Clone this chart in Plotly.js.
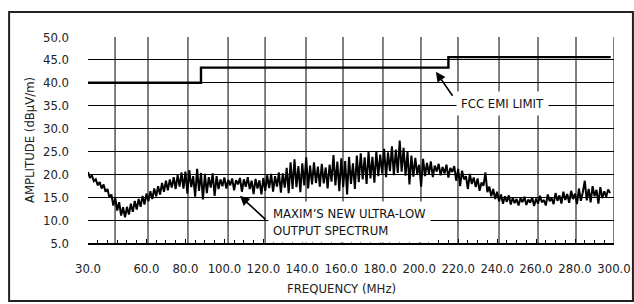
<!DOCTYPE html>
<html>
<head>
<meta charset="utf-8">
<script src="https://cdn.plot.ly/plotly-3.0.1.min.js"></script>
<style>html,body{margin:0;padding:0;background:#fff;}#chart{width:634px;height:304px;}</style>
</head>
<body>
<div id="chart"></div>
<script>
// Spectrum sampled every 1 MHz from 30 MHz
const specStart = 30;
const specValues = [
 20.5,19.2,19.8,18.5,18.9,17.6,18.3,16.9,17.8,16.2,
 16.8,14.9,15.6,13.2,14.8,12.1,13.9,11.0,12.8,10.6,
 12.9,11.2,13.6,11.8,14.2,12.3,14.6,12.9,15.3,13.4,
 15.8,14.1,16.3,14.6,16.9,15.2,17.4,15.6,18.1,16.2,
 18.6,16.5,18.9,17.1,19.4,16.8,19.8,17.3,20.4,16.9,
 20.6,15.8,20.9,17.2,19.6,15.1,21.2,16.4,20.3,14.5,
 20.1,15.9,19.4,17.1,20.2,15.3,19.6,16.8,18.9,17.4,
 19.3,16.9,18.8,17.6,19.1,16.5,18.7,17.8,19.2,16.2,
 18.9,17.3,19.4,16.8,18.6,15.7,19.0,16.9,18.7,15.6,
 19.2,16.4,19.8,17.0,20.1,16.2,19.6,17.3,20.4,16.0,
 20.2,17.1,21.4,15.9,22.6,16.8,23.3,17.2,21.8,16.1,
 22.4,17.6,23.7,16.9,21.9,17.8,22.6,18.1,21.7,17.3,
 22.3,18.0,21.5,16.9,22.1,18.4,24.2,17.6,22.8,16.3,
 23.5,17.2,22.9,15.6,23.8,17.9,22.4,16.8,24.1,18.3,
 24.6,18.9,23.7,17.9,24.9,19.1,23.8,18.2,25.1,19.6,
 24.3,20.2,25.6,19.4,24.8,20.7,26.1,19.8,25.4,20.3,
 27.4,20.6,25.8,19.7,24.9,17.8,24.1,19.5,23.6,20.1,
 22.1,17.3,23.4,19.6,22.5,20.1,22.8,19.4,21.9,20.6,
 22.3,19.8,21.6,20.2,22.1,19.3,21.4,20.5,21.8,18.6,
 21.2,17.4,20.8,18.9,19.6,16.8,20.1,17.9,19.3,17.2,
 19.1,16.4,18.2,17.5,20.4,16.1,17.3,15.2,16.8,14.6,
 16.2,14.1,15.6,13.6,15.2,14.0,15.4,13.4,14.9,13.7,
 14.6,13.2,14.8,13.9,15.1,13.3,14.5,13.8,15.0,13.1,
 14.7,13.6,15.3,13.9,14.4,13.2,15.6,14.1,14.8,13.5,
 15.9,14.2,15.4,13.6,16.2,14.4,15.7,13.8,16.4,14.6,
 15.8,13.5,16.9,14.2,16.1,18.6,14.3,16.8,13.9,17.4,
 15.2,16.6,13.6,17.2,14.8,16.3,15.1,16.7,15.9
];
const specFreq = specValues.map((v, i) => specStart + i);

// FCC EMI limit (step)
const fccFreq  = [30, 88, 88, 215, 215, 298.3];
const fccLimit = [40, 40, 43.3, 43.3, 45.6, 45.6];

// axis ticks
const xTickVals = [30, 60, 80, 100, 120, 140, 160, 180, 200, 220, 240, 260, 280, 300];
const xTickText = xTickVals.map(v => v.toFixed(1));
const gridX = [43.9, 60.8, 81.3, 101.9, 120.9, 141.9, 160.9, 181.4, 200.9, 219.9, 241.0, 261.0, 280.5, 300];

const FONT = '"DejaVu Sans Condensed", "Liberation Sans", sans-serif';
const FS = 13;

const traces = [
  {x: specFreq, y: specValues, type: 'scatter', mode: 'lines',
   line: {color: '#000', width: 2}, hoverinfo: 'skip'},
  {x: fccFreq, y: fccLimit, type: 'scatter', mode: 'lines',
   line: {color: '#000', width: 2.4}, hoverinfo: 'skip'}
];

const shapes = gridX.map(g => ({
  type: 'line', xref: 'x', yref: 'paper', x0: g, x1: g, y0: 0, y1: 1,
  line: {color: '#555', width: 1.5}, layer: 'below'
}));
// outer frame
shapes.push({type: 'rect', xref: 'paper', yref: 'paper',
  x0: -0.150, x1: 1.036, y0: -0.282, y1: 1.121,
  line: {color: '#222', width: 2}, fillcolor: 'rgba(0,0,0,0)'});

const layout = {
  width: 634, height: 304,
  margin: {l: 88, r: 20, t: 37, b: 61},
  paper_bgcolor: '#fff', plot_bgcolor: '#fff',
  showlegend: false,
  font: {family: FONT, size: FS, color: '#222'},
  xaxis: {
    range: [30, 300], tickmode: 'array', tickvals: xTickVals, ticktext: xTickText,
    tickangle: 0,
    showgrid: false, zeroline: false, showline: true, linecolor: '#000', linewidth: 1.5,
    ticks: 'inside', ticklen: 4, tickcolor: '#000', tickwidth: 1,
    minor: {tickmode: 'linear', tick0: 30, dtick: 5, ticks: 'inside', ticklen: 3, tickcolor: '#000', showgrid: false},
    ticklabelstandoff: 13,
    tickfont: {family: FONT, size: FS, color: '#222'}
  },
  yaxis: {
    range: [5, 50], tickmode: 'linear', tick0: 5, dtick: 5, tickformat: '.1f',
    showgrid: true, gridcolor: '#000', gridwidth: 1, zeroline: false, showline: false,
    ticks: '', ticklabelstandoff: 18,
    tickfont: {family: FONT, size: FS, color: '#222'}
  },
  shapes: shapes,
  annotations: [
    {xref: 'paper', yref: 'paper', x: 0.482, y: -0.223, text: 'FREQUENCY (MHz)',
     showarrow: false, xanchor: 'center', yanchor: 'middle', font: {family: FONT, size: FS, color: '#222'}},
    {xref: 'paper', yref: 'paper', x: -0.112, y: 0.5, text: 'AMPLITUDE (dBμV/m)', textangle: -90,
     showarrow: false, xanchor: 'center', yanchor: 'middle', font: {family: FONT, size: FS, color: '#222'}},
    {xref: 'x', yref: 'y', x: 219, y: 35.5, text: 'FCC EMI LIMIT', showarrow: false,
     xanchor: 'left', yanchor: 'middle', bgcolor: '#fff', borderpad: 4,
     font: {family: FONT, size: FS, color: '#111'}},
    {xref: 'x', yref: 'y', x: 208.6, y: 42.4, ax: 18, ay: 26, text: ' ', showarrow: true,
     arrowhead: 2, arrowsize: 1.2, arrowwidth: 1.6, arrowcolor: '#000', standoff: 0, startstandoff: 0,
     font: {size: 1}},
    {xref: 'x', yref: 'y', x: 122.5, y: 9.6, text: 'MAXIM’S NEW ULTRA-LOW<br>OUTPUT SPECTRUM',
     showarrow: false, align: 'left', xanchor: 'left', yanchor: 'middle', bgcolor: '#fff', borderpad: 4,
     font: {family: FONT, size: FS, color: '#111'}},
    {xref: 'x', yref: 'y', x: 108, y: 15.3, ax: 27, ay: 25, text: ' ', showarrow: true,
     arrowhead: 2, arrowsize: 1.2, arrowwidth: 1.6, arrowcolor: '#000', standoff: 0, startstandoff: 0,
     font: {size: 1}}
  ]
};

Plotly.newPlot('chart', traces, layout, {displayModeBar: false, staticPlot: true});
</script>
</body>
</html>
